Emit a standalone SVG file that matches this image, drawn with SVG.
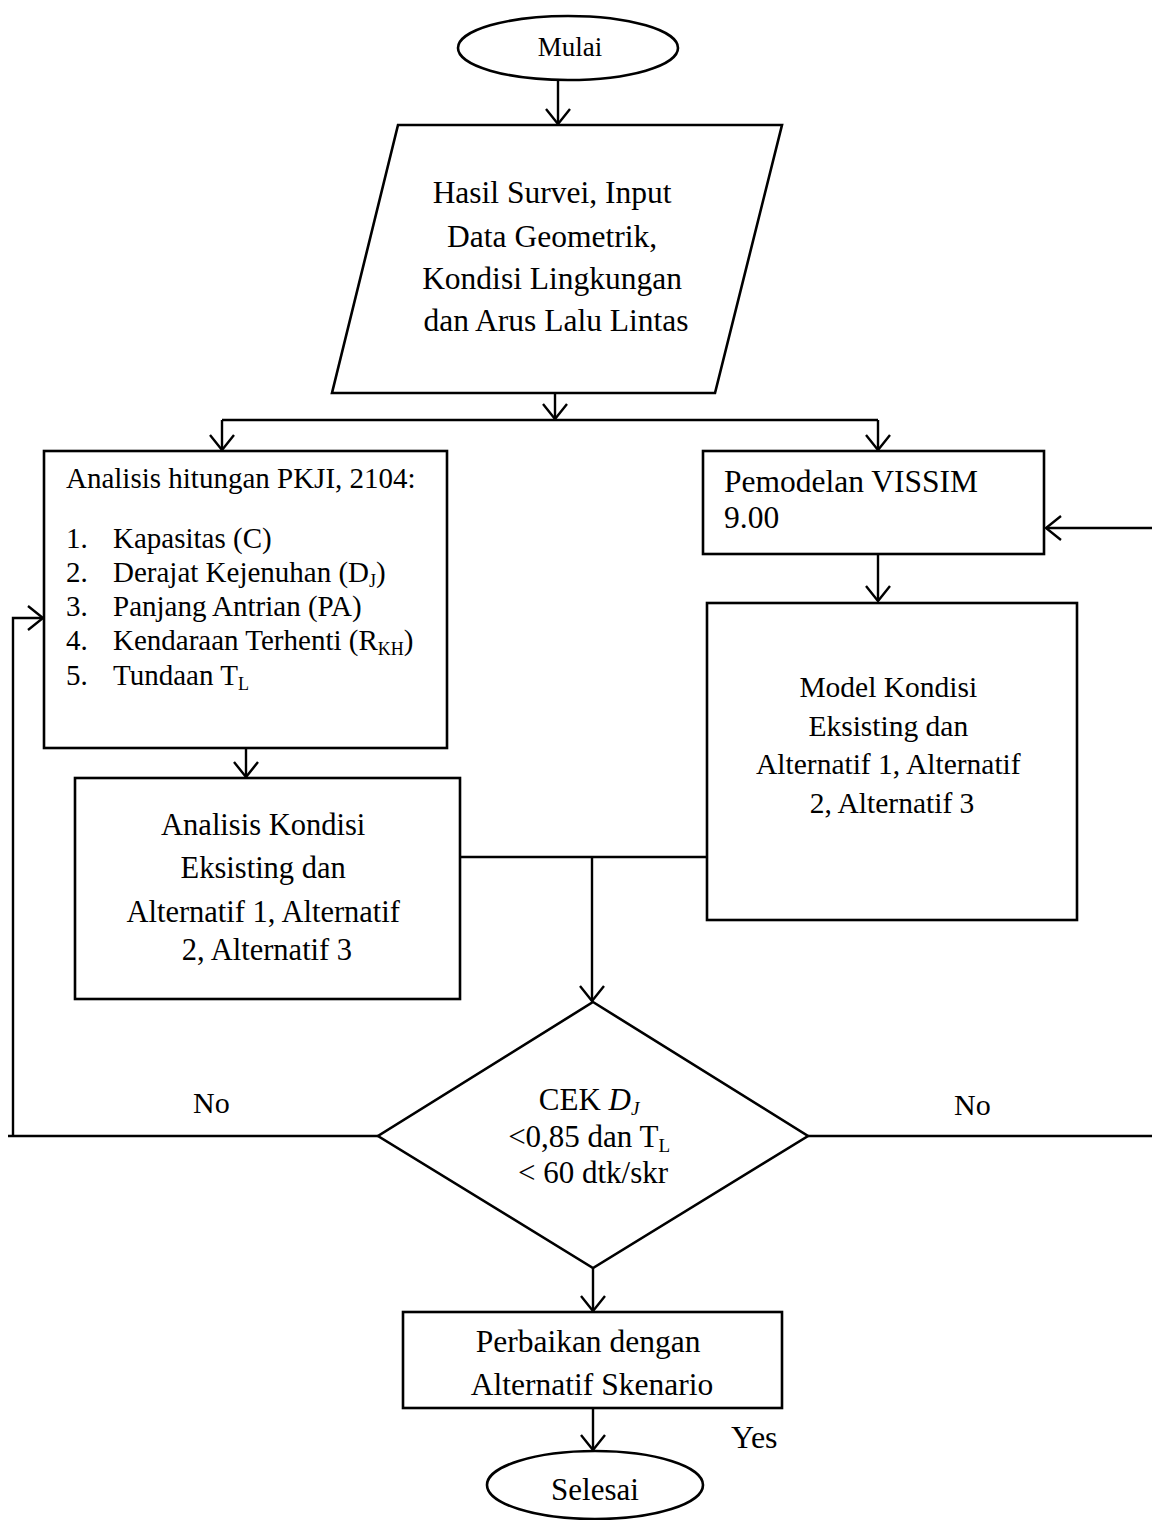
<svg xmlns="http://www.w3.org/2000/svg" width="1152" height="1520" viewBox="0 0 1152 1520">
<style>
  .s { fill: #fff; stroke: #000; stroke-width: 2.6; }
  .c { fill: none; stroke: #000; stroke-width: 2.4; }
  .t { font-family: "Liberation Serif", "Times New Roman", serif; fill: #000; }
  .m { text-anchor: middle; }
</style>
<defs>
  <marker id="ah" markerUnits="userSpaceOnUse" markerWidth="30" markerHeight="30" refX="15" refY="15" orient="auto" overflow="visible">
    <path d="M0,3 L15,15 L0,27" fill="none" stroke="#000" stroke-width="2.4"/>
  </marker>
</defs>
<rect width="1152" height="1520" fill="#fff"/>

<g id="connectors">
  <line class="c" x1="558" y1="80" x2="558" y2="124" marker-end="url(#ah)"/>
  <line class="c" x1="555" y1="393" x2="555" y2="419" marker-end="url(#ah)"/>
  <line class="c" x1="222" y1="420" x2="878" y2="420" stroke-width="1.8"/>
  <line class="c" x1="222" y1="420" x2="222" y2="450" marker-end="url(#ah)"/>
  <line class="c" x1="878" y1="420" x2="878" y2="450" marker-end="url(#ah)"/>
  <line class="c" x1="246" y1="748" x2="246" y2="777" marker-end="url(#ah)"/>
  <line class="c" x1="878" y1="554" x2="878" y2="601" marker-end="url(#ah)"/>
  <line class="c" x1="1152" y1="528" x2="1046" y2="528" marker-end="url(#ah)"/>
  <line class="c" x1="460" y1="857" x2="707" y2="857" stroke-width="1.8"/>
  <line class="c" x1="592" y1="857" x2="592" y2="1001" marker-end="url(#ah)"/>
  <polyline class="c" points="8,1136 378,1136"/>
  <polyline class="c" points="13,1136 13,618 43,618" marker-end="url(#ah)"/>
  <line class="c" x1="808" y1="1136" x2="1152" y2="1136"/>
  <line class="c" x1="593" y1="1268" x2="593" y2="1311" marker-end="url(#ah)"/>
  <line class="c" x1="593" y1="1408" x2="593" y2="1450" marker-end="url(#ah)"/>
  <text class="t" x="193" y="1113" font-size="30">No</text>
  <text class="t" x="954" y="1115" font-size="30">No</text>
  <text class="t" x="731" y="1448" font-size="32">Yes</text>
</g>

<g id="mulai">
  <ellipse class="s" cx="568" cy="48" rx="110" ry="32"/>
  <text class="t m" x="570" y="56" font-size="27">Mulai</text>
</g>

<g id="input">
  <polygon class="s" points="398,125 782,125 715,393 332,393"/>
  <text class="t m" font-size="31.5">
    <tspan x="556" y="203">Hasil Survei, Input</tspan>
    <tspan x="556" y="247">Data Geometrik,</tspan>
    <tspan x="556" y="289">Kondisi Lingkungan</tspan>
    <tspan x="556" y="331">dan Arus Lalu Lintas</tspan>
  </text>
</g>

<g id="pkji">
  <rect class="s" x="44" y="451" width="403" height="297"/>
  <text class="t" x="66" y="488" font-size="29">Analisis hitungan PKJI, 2104:</text>
  <text class="t" font-size="29">
    <tspan x="66" y="548">1.</tspan><tspan x="113" y="548">Kapasitas (C)</tspan>
    <tspan x="66" y="582">2.</tspan><tspan x="113" y="582">Derajat Kejenuhan (D</tspan><tspan font-size="18" dy="5">J</tspan><tspan dy="-5">)</tspan>
    <tspan x="66" y="616">3.</tspan><tspan x="113" y="616">Panjang Antrian (PA)</tspan>
    <tspan x="66" y="650">4.</tspan><tspan x="113" y="650">Kendaraan Terhenti (R</tspan><tspan font-size="18" dy="5">KH</tspan><tspan dy="-5">)</tspan>
    <tspan x="66" y="685">5.</tspan><tspan x="113" y="685">Tundaan T</tspan><tspan font-size="18" dy="5">L</tspan>
  </text>
</g>

<g id="vissim">
  <rect class="s" x="703" y="451" width="341" height="103"/>
  <text class="t" font-size="31.5">
    <tspan x="724" y="492">Pemodelan VISSIM</tspan>
    <tspan x="724" y="528">9.00</tspan>
  </text>
</g>

<g id="model">
  <rect class="s" x="707" y="603" width="370" height="317"/>
  <text class="t m" font-size="29.5">
    <tspan x="892" y="697">Model Kondisi</tspan>
    <tspan x="892" y="736">Eksisting dan</tspan>
    <tspan x="892" y="774">Alternatif 1, Alternatif</tspan>
    <tspan x="892" y="813">2, Alternatif 3</tspan>
  </text>
</g>

<g id="analisis">
  <rect class="s" x="75" y="778" width="385" height="221"/>
  <text class="t m" font-size="30.5">
    <tspan x="267" y="835">Analisis Kondisi</tspan>
    <tspan x="267" y="878">Eksisting dan</tspan>
    <tspan x="267" y="922">Alternatif 1, Alternatif</tspan>
    <tspan x="267" y="960">2, Alternatif 3</tspan>
  </text>
</g>

<g id="cek">
  <polygon class="s" points="593,1002 808,1136 593,1268 378,1136"/>
  <text class="t m" font-size="31">
    <tspan x="593" y="1110">CEK <tspan font-style="italic">D</tspan><tspan font-style="italic" font-size="19" dy="5">J</tspan></tspan>
    <tspan x="593" y="1147">&lt;0,85 dan T<tspan font-size="19" dy="5">L</tspan></tspan>
    <tspan x="593" y="1183">&lt; 60 dtk/skr</tspan>
  </text>
</g>

<g id="perbaikan">
  <rect class="s" x="403" y="1312" width="379" height="96"/>
  <text class="t m" font-size="31.5">
    <tspan x="592" y="1352">Perbaikan dengan</tspan>
    <tspan x="592" y="1395">Alternatif Skenario</tspan>
  </text>
</g>

<g id="selesai">
  <ellipse class="s" cx="595" cy="1485" rx="108" ry="34"/>
  <text class="t m" x="595" y="1500" font-size="31">Selesai</text>
</g>
</svg>
